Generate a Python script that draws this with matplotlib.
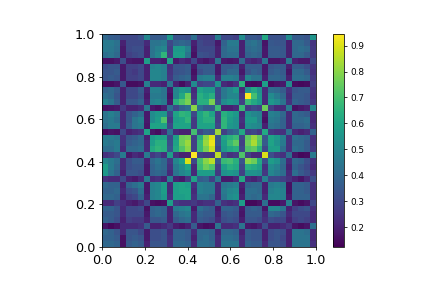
import matplotlib
matplotlib.use('Agg')
import matplotlib.pyplot as plt
import numpy as np

# 36x36 grid, top row first
cells = [
    [.40,.37,.36,.30, .30,.30,.33,.50, .36,.36,.37,.56, .33,.33,.32,.42, .28,.27,.27,.47, .30,.30,.28,.52, .35,.35,.33,.62, .33,.33,.33,.52, .36,.36,.34,.55],
    [.46,.46,.43,.20, .30,.30,.30,.22, .44,.44,.46,.30, .38,.40,.38,.20, .30,.28,.28,.18, .38,.46,.46,.20, .42,.44,.40,.17, .35,.34,.34,.20, .40,.40,.36,.25],
    [.46,.45,.42,.18, .30,.32,.32,.20, .44,.48,.50,.28, .56,.56,.48,.18, .30,.30,.30,.20, .40,.44,.44,.20, .40,.42,.40,.18, .36,.36,.35,.20, .40,.42,.40,.26],
    [.42,.44,.40,.18, .28,.30,.32,.20, .44,.50,.66,.28, .58,.58,.44,.16, .33,.32,.30,.20, .40,.42,.42,.20, .38,.40,.38,.18, .36,.36,.35,.20, .40,.40,.36,.26],
    [.16,.16,.18,.32, .18,.17,.17,.58, .20,.20,.18,.60, .18,.22,.20,.30, .19,.17,.20,.44, .18,.17,.18,.40, .22,.20,.22,.44, .17,.17,.19,.46, .20,.18,.18,.30],
    [.32,.34,.34,.18, .28,.28,.30,.20, .48,.50,.48,.24, .34,.34,.36,.18, .35,.36,.36,.18, .36,.36,.38,.20, .36,.36,.36,.18, .34,.36,.36,.20, .36,.36,.32,.25],
    [.34,.34,.36,.18, .28,.26,.30,.20, .50,.50,.48,.25, .33,.34,.36,.16, .32,.36,.36,.18, .36,.40,.40,.18, .34,.38,.36,.18, .36,.38,.36,.17, .40,.40,.36,.24],
    [.34,.36,.34,.18, .28,.28,.30,.20, .50,.50,.48,.26, .36,.38,.40,.18, .46,.48,.48,.22, .48,.48,.46,.22, .50,.44,.44,.20, .40,.40,.38,.20, .42,.42,.40,.26],
    [.15,.15,.17,.35, .15,.15,.16,.48, .22,.22,.20,.44, .20,.15,.20,.52, .28,.30,.30,.55, .22,.20,.24,.65, .15,.14,.15,.58, .15,.17,.18,.52, .15,.14,.15,.28],
    [.38,.40,.36,.20, .30,.30,.36,.20, .48,.48,.44,.18, .50,.56,.54,.22, .60,.56,.56,.30, .45,.50,.56,.22, .54,.62,.54,.22, .42,.40,.36,.24, .34,.36,.36,.25],
    [.42,.40,.34,.20, .30,.30,.34,.18, .46,.46,.44,.16, .50,.62,.76,.24, .64,.60,.64,.30, .45,.50,.50,.25, .95,.70,.56,.22, .52,.46,.40,.22, .36,.36,.34,.24],
    [.48,.44,.36,.20, .34,.34,.38,.20, .48,.50,.46,.18, .64,.72,.78,.28, .64,.64,.78,.32, .52,.56,.54,.28, .68,.62,.56,.22, .56,.52,.44,.24, .38,.36,.34,.26],
    [.16,.17,.18,.26, .20,.20,.22,.45, .18,.16,.20,.42, .30,.38,.42,.80, .42,.36,.36,.68, .20,.20,.22,.68, .26,.30,.28,.76, .28,.22,.22,.46, .16,.18,.20,.50],
    [.44,.48,.44,.22, .34,.38,.42,.18, .52,.56,.56,.30, .60,.66,.64,.30, .60,.66,.60,.28, .64,.60,.56,.22, .54,.50,.48,.18, .48,.46,.40,.22, .40,.38,.36,.22],
    [.44,.46,.42,.22, .34,.44,.48,.18, .52,.58,.72,.26, .58,.60,.66,.26, .60,.64,.64,.28, .66,.58,.54,.24, .56,.56,.48,.16, .46,.44,.38,.22, .40,.40,.42,.22],
    [.42,.46,.46,.22, .36,.44,.46,.17, .60,.60,.60,.30, .60,.60,.60,.26, .60,.60,.60,.30, .66,.56,.54,.22, .54,.52,.50,.20, .44,.42,.38,.22, .38,.38,.40,.24],
    [.15,.17,.16,.30, .20,.22,.24,.60, .17,.15,.22,.42, .22,.20,.20,.70, .30,.36,.34,.82, .28,.36,.40,.62, .28,.30,.26,.62, .26,.24,.24,.44, .22,.20,.22,.38],
    [.46,.46,.44,.24, .34,.36,.40,.20, .56,.60,.60,.30, .58,.76,.78,.28, .64,.80,.90,.34, .60,.64,.68,.30, .74,.82,.74,.34, .60,.56,.48,.24, .42,.40,.38,.24],
    [.46,.44,.46,.24, .36,.38,.40,.22, .58,.64,.64,.32, .60,.76,.82,.28, .68,.82,.92,.34, .58,.68,.74,.28, .76,.84,.72,.36, .60,.54,.46,.24, .40,.40,.36,.24],
    [.42,.42,.46,.22, .40,.40,.42,.22, .62,.66,.64,.34, .62,.72,.80,.28, .68,.78,.88,.30, .56,.62,.64,.30, .72,.74,.64,.30, .58,.58,.42,.24, .42,.40,.36,.26],
    [.24,.26,.30,.46, .18,.22,.20,.46, .26,.30,.24,.58, .24,.20,.20,.96, .28,.26,.26,.86, .30,.24,.26,.72, .28,.22,.22,.90, .32,.26,.24,.42, .17,.14,.15,.46],
    [.50,.46,.42,.22, .32,.36,.36,.20, .40,.44,.40,.26, .50,.58,.90,.30, .70,.80,.86,.34, .68,.70,.64,.34, .80,.76,.62,.32, .58,.54,.42,.22, .40,.38,.32,.24],
    [.58,.46,.40,.22, .32,.34,.34,.18, .38,.42,.40,.24, .46,.52,.60,.22, .68,.76,.72,.28, .58,.64,.62,.30, .64,.62,.58,.24, .52,.48,.40,.20, .38,.34,.30,.22],
    [.56,.44,.38,.20, .34,.34,.32,.18, .38,.40,.38,.22, .44,.50,.54,.22, .58,.58,.58,.26, .54,.56,.54,.28, .54,.54,.52,.26, .50,.46,.42,.22, .42,.36,.32,.26],
    [.24,.22,.22,.30, .20,.18,.22,.46, .22,.24,.20,.48, .20,.18,.26,.60, .36,.38,.28,.46, .18,.18,.22,.62, .22,.20,.24,.48, .30,.30,.28,.24, .20,.17,.22,.32],
    [.40,.38,.38,.20, .38,.42,.46,.18, .48,.50,.58,.22, .58,.60,.58,.24, .48,.46,.46,.22, .44,.46,.48,.20, .38,.40,.40,.20, .46,.48,.46,.16, .38,.38,.36,.24],
    [.38,.38,.40,.22, .32,.34,.42,.18, .48,.50,.58,.22, .58,.60,.60,.22, .48,.46,.46,.22, .46,.50,.52,.18, .42,.42,.40,.20, .48,.50,.48,.16, .38,.38,.36,.24],
    [.40,.40,.38,.20, .28,.30,.38,.20, .48,.50,.56,.24, .58,.58,.60,.24, .44,.44,.40,.22, .44,.52,.54,.20, .42,.40,.42,.22, .50,.50,.48,.18, .38,.38,.38,.24],
    [.22,.22,.28,.24, .20,.18,.22,.30, .16,.15,.16,.58, .26,.24,.24,.26, .22,.24,.24,.38, .24,.22,.24,.58, .14,.14,.16,.42, .15,.15,.18,.48, .17,.15,.17,.30],
    [.38,.38,.34,.22, .30,.30,.32,.16, .38,.40,.38,.20, .46,.48,.50,.18, .42,.38,.36,.18, .38,.38,.36,.18, .36,.38,.36,.17, .50,.50,.44,.20, .28,.32,.34,.24],
    [.36,.36,.34,.22, .30,.30,.30,.18, .38,.40,.38,.20, .40,.44,.46,.22, .38,.36,.36,.20, .34,.36,.34,.17, .36,.36,.36,.22, .40,.38,.34,.22, .30,.30,.30,.22],
    [.38,.36,.32,.20, .28,.26,.26,.20, .34,.34,.36,.20, .36,.40,.42,.22, .36,.34,.32,.22, .32,.34,.32,.19, .34,.34,.32,.24, .32,.30,.30,.20, .28,.30,.28,.22],
    [.17,.14,.16,.22, .22,.22,.24,.36, .20,.20,.22,.26, .19,.17,.20,.36, .17,.15,.16,.44, .22,.22,.24,.44, .18,.17,.20,.32, .20,.20,.22,.26, .17,.15,.17,.42],
    [.40,.38,.34,.22, .34,.34,.30,.18, .32,.32,.34,.22, .38,.38,.36,.22, .40,.40,.38,.20, .40,.40,.38,.20, .36,.34,.34,.20, .32,.34,.32,.20, .44,.44,.42,.22],
    [.38,.38,.36,.16, .34,.36,.34,.18, .32,.32,.34,.24, .38,.38,.36,.20, .40,.42,.38,.22, .42,.42,.40,.22, .36,.34,.34,.20, .32,.34,.30,.20, .44,.44,.44,.22],
    [.40,.40,.38,.16, .36,.38,.36,.20, .34,.34,.34,.24, .40,.40,.38,.22, .42,.42,.40,.22, .44,.44,.44,.22, .38,.36,.36,.22, .34,.34,.32,.20, .44,.44,.44,.24],
]
axis_ticks = [0.0, 0.2, 0.4, 0.6, 0.8, 1.0]
cbar_ticks = [0.2, 0.3, 0.4, 0.5, 0.6, 0.7, 0.8, 0.9]

W, H = 423, 282
fig = plt.figure(figsize=(6, 4), dpi=70.5)
ax = fig.add_axes([102 / W, (H - 247) / H, 214 / W, 213 / H])
cax = fig.add_axes([333 / W, (H - 247) / H, 10.5 / W, 213 / H])

im = ax.imshow(np.array(cells), cmap='viridis', vmin=0.123, vmax=0.945,
               extent=(0, 1, 0, 1), aspect='auto', interpolation='nearest')
ax.set_xticks(axis_ticks)
ax.set_yticks(axis_ticks)
ax.tick_params(labelsize=13)

cb = fig.colorbar(im, cax=cax)
cb.set_ticks(cbar_ticks)
cb.ax.tick_params(labelsize=9)

fig.savefig('out.png', dpi=70.5)
